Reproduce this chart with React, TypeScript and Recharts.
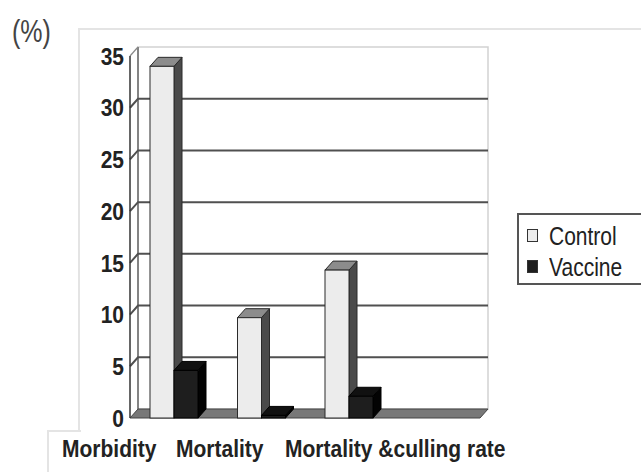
import { BarChart, Bar, XAxis, YAxis, ReferenceArea, ReferenceLine, Legend } from 'recharts';

const categories = ['Morbidity', 'Mortality', 'Mortality &culling rate', ''];
const controlValues = [34, 9.7, 14.3, null];
const vaccineValues = [4.6, 0.25, 2.1, null];
const yTicks = [0, 5, 10, 15, 20, 25, 30, 35];
const gridValues = [5, 10, 15, 20, 25, 30];

// x positions of the category captions under the chart (they are not centred on the bars)
const captionLeft = [62, 176, 285];

/** depth of the fake 3D projection, px */
const DX = 8;
const DY = 9;

const data = categories.map((name, i) => ({
  name,
  control: controlValues[i],
  vaccine: vaccineValues[i],
}));

const SHADES: Record<string, { side: string; top: string; stroke: string }> = {
  '#ececec': { side: '#4a4a4a', top: '#8c8c8c', stroke: '#2a2a2a' },
  '#1e1e1e': { side: '#030303', top: '#111111', stroke: '#000000' },
};

function Bar3D(props: any) {
  const { x, y, width, height, fill, value } = props;
  if (value == null || width == null) return null;
  const s = SHADES[fill] ?? SHADES['#ececec'];
  const w = width;
  const h = Math.max(height, 0);
  return (
    <g>
      <polygon
        points={`${x + w},${y} ${x + w + DX},${y - DY} ${x + w + DX},${y + h - DY} ${x + w},${y + h}`}
        fill={s.side}
        stroke={s.stroke}
        strokeWidth={1}
      />
      <polygon
        points={`${x},${y} ${x + DX},${y - DY} ${x + w + DX},${y - DY} ${x + w},${y}`}
        fill={s.top}
        stroke={s.stroke}
        strokeWidth={1}
      />
      <rect x={x} y={y} width={w} height={h} fill={fill} stroke={s.stroke} strokeWidth={1} />
    </g>
  );
}

// back wall, left wall edge and floor, sized from the plot area
function Wall3D(props: any) {
  const { x, y, width, height } = props;
  const bottom = y + height;
  return (
    <g>
      <rect x={x + DX} y={y - DY} width={width} height={height} fill="#fff" stroke="#d2d2d2" strokeWidth={1.5} />
      <line x1={x + DX} y1={y - DY} x2={x + DX} y2={bottom - DY} stroke="#666" strokeWidth={1.5} />
      <line x1={x} y1={y} x2={x + DX} y2={y - DY} stroke="#888" strokeWidth={1.2} />
      <polygon
        points={`${x},${bottom} ${x + width},${bottom} ${x + width + DX},${bottom - DY} ${x + DX},${bottom - DY}`}
        fill="#787878"
        stroke="#444"
        strokeWidth={1}
      />
    </g>
  );
}

function GridLine3D(props: any) {
  const { x1, y1, x2, y2 } = props;
  return (
    <polyline
      points={`${x1},${y1} ${x1 + DX},${y1 - DY} ${x2 + DX},${y2 - DY}`}
      fill="none"
      stroke="#505050"
      strokeWidth={2}
    />
  );
}

// y tick label, slightly stretched vertically like the original's condensed bold face
function YTick(props: any) {
  const { x, y, payload } = props;
  return (
    <g transform={`translate(${x},${y}) scale(1,1.15)`}>
      <text x={0} y={0} dy="0.36em" textAnchor="end" fontSize={21} fontWeight="bold" fill="#222">
        {payload.value}
      </text>
    </g>
  );
}

function LegendBox(props: any) {
  const { payload = [] } = props;
  return (
    <div
      style={{
        border: '2px solid #555',
        width: 140,
        height: 72,
        padding: '5px 0 0 8px',
        boxSizing: 'border-box',
        fontFamily: '"Liberation Sans", Arial, sans-serif',
        fontSize: 21,
        color: '#222',
      }}
    >
      {payload.map((p: any) => (
        <div key={p.value} style={{ display: 'flex', alignItems: 'center', height: 31 }}>
          <span
            style={{
              width: 9,
              height: 11,
              border: '1.5px solid #333',
              background: p.color,
              marginRight: 11,
              display: 'inline-block',
            }}
          />
          <span style={{ display: 'inline-block', transform: 'scaleY(1.25)' }}>{p.value}</span>
        </div>
      ))}
    </div>
  );
}

export default function App() {
  return (
    <div
      style={{
        position: 'absolute',
        left: 0,
        top: 0,
        width: 641,
        height: 472,
        overflow: 'hidden',
        background: '#fff',
        fontFamily: '"Liberation Sans", Arial, sans-serif',
      }}
    >
      {/* outer figure frame */}
      <div style={{ position: 'absolute', left: 78, top: 28, width: 600, height: 402, borderTop: '2px solid #e4e4e4', borderLeft: '2px solid #e4e4e4' }} />
      <div style={{ position: 'absolute', left: 47, top: 430, width: 32, height: 60, borderTop: '2px solid #e4e4e4', borderLeft: '2px solid #e4e4e4' }} />

      <div style={{ position: 'absolute', left: 12, top: 17, fontSize: 25, color: '#444', transform: 'scaleY(1.25)' }}>(%)</div>

      <div style={{ position: 'absolute', left: 0, top: 0 }}>
        <BarChart
          width={641}
          height={472}
          data={data}
          margin={{ top: 56, right: 161, bottom: 54, left: 0 }}
          barCategoryGap={20}
          barGap={0}
        >
          <XAxis dataKey="name" hide />
          <YAxis
            width={130}
            domain={[0, 35]}
            ticks={yTicks}
            interval={0}
            axisLine={{ stroke: '#333', strokeWidth: 1.5 }}
            tickLine={false}
            tickSize={6}
            tickMargin={0}
            tick={YTick}
          />
          <ReferenceArea y1={0} y2={35} shape={Wall3D} ifOverflow="visible" zIndex={-20} />
          {gridValues.map((v) => (
            <ReferenceLine key={v} y={v} shape={GridLine3D} ifOverflow="visible" zIndex={-10} />
          ))}
          <Bar dataKey="control" name="Control" fill="#ececec" shape={Bar3D} isAnimationActive={false} />
          <Bar dataKey="vaccine" name="Vaccine" fill="#1e1e1e" shape={Bar3D} isAnimationActive={false} />
          <Legend
            layout="horizontal"
            verticalAlign="middle"
            align="center"
            content={LegendBox}
            wrapperStyle={{ position: 'absolute', left: 517, top: 213, width: 140 }}
          />
        </BarChart>
      </div>

      {/* category captions */}
      {categories.slice(0, 3).map((c, i) => (
        <div
          key={c}
          style={{
            position: 'absolute',
            left: captionLeft[i],
            top: 437,
            fontSize: 21,
            fontWeight: 'bold',
            color: '#222',
            whiteSpace: 'nowrap',
            transform: 'scaleY(1.15)',
          }}
        >
          {c}
        </div>
      ))}
    </div>
  );
}
